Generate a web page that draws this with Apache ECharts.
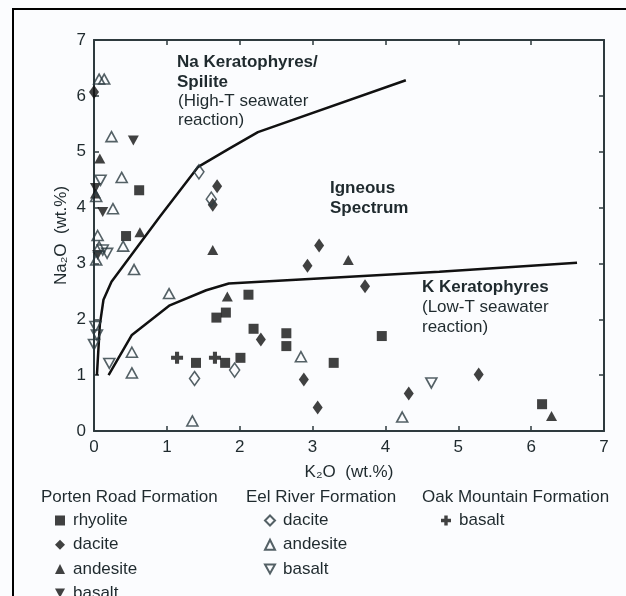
<!DOCTYPE html>
<html><head><meta charset="utf-8">
<script src="https://cdn.jsdelivr.net/npm/echarts@6/dist/echarts.min.js"></script>
<style>html,body{margin:0;padding:0;background:#fbfcfe}#c{width:626px;height:596px}</style>
</head><body><div id="c"></div>
<script>
// ---- data (K2O wt.%, Na2O wt.%) ----
const xTicks = [0, 1, 2, 3, 4, 5, 6, 7];
const yTicks = [0, 1, 2, 3, 4, 5, 6, 7];

const porRhyolite = [[0.62,4.31],[0.44,3.49],[1.68,2.03],[1.81,2.12],[2.12,2.44],[2.19,1.83],[2.64,1.75],[2.64,1.52],[1.40,1.22],[1.80,1.22],[2.01,1.31],[3.29,1.22],[3.95,1.70],[6.15,0.48]];
const porDacite = [[0.00,6.07],[1.69,4.38],[1.63,4.05],[3.09,3.32],[2.93,2.96],[3.72,2.59],[2.29,1.64],[2.88,0.92],[3.07,0.42],[4.32,0.67],[5.28,1.01]];
const porAndesite = [[0.08,4.88],[0.02,4.25],[0.63,3.56],[1.63,3.24],[1.83,2.41],[3.49,3.06],[6.28,0.27]];
const porBasalt = [[0.54,5.20],[0.02,4.35],[0.12,3.92],[0.05,3.15]];
const eelDacite = [[1.44,4.64],[1.61,4.15],[1.38,0.94],[1.93,1.09]];
const eelAndesite = [[0.07,6.30],[0.14,6.30],[0.24,5.27],[0.38,4.54],[0.26,3.98],[0.03,4.20],[0.05,3.50],[0.07,3.30],[0.03,3.06],[0.40,3.31],[0.55,2.89],[1.03,2.46],[0.52,1.41],[0.52,1.04],[1.35,0.18],[2.84,1.33],[4.23,0.25]];
const eelBasalt = [[0.09,4.49],[0.12,3.24],[0.18,3.18],[0.02,1.87],[0.04,1.72],[0.00,1.55],[0.21,1.21],[4.63,0.86]];
const oakBasalt = [[1.14,1.31],[1.66,1.31]];

const upperBoundary = [[0.04,1.00],[0.08,1.90],[0.13,2.35],[0.24,2.67],[0.90,3.83],[1.43,4.73],[1.85,5.05],[2.25,5.35],[4.28,6.28]];
const lowerBoundary = [[0.20,1.00],[0.52,1.72],[1.04,2.25],[1.54,2.52],[1.85,2.64],[4.74,2.85],[6.63,3.01]];

const groupTitles = ['Porten Road Formation', 'Eel River Formation', 'Oak Mountain Formation'];

// ---- styles ----
const F = '"Liberation Sans", Arial, Helvetica, sans-serif';
const AX = '#2e3a3e';
const TXT = '#1f2a2e';
const INK = '#111';
const OPEN = '#2b3a40';
const DOWN = 'path://M0,0L10,0L5,9Z';
const PLUS = 'path://M3.3,0H6.7V3.3H10V6.7H6.7V10H3.3V6.7H0V3.3H3.3Z';

function sc(name, data, symbol, size, filled) {
  return {
    type: 'scatter', name, data, symbol, symbolSize: size, z: 3,
    itemStyle: filled ? { color: INK } : { color: 'rgba(255,255,255,0)', borderColor: OPEN, borderWidth: 1.6 },
    emphasis: { disabled: true }
  };
}
function ln(data) {
  return { type: 'line', data, symbol: 'none', lineStyle: { color: INK, width: 2.5 }, z: 2, silent: true };
}

const series = [
  ln(upperBoundary), ln(lowerBoundary),
  sc('P|rhyolite', porRhyolite, 'rect', 10, true),
  sc('P|dacite', porDacite, 'diamond', [10, 14], true),
  sc('P|andesite', porAndesite, 'triangle', [11, 10], true),
  sc('P|basalt', porBasalt, DOWN, [11, 10], true),
  sc('E|dacite', eelDacite, 'diamond', [10, 14], false),
  sc('E|andesite', eelAndesite, 'triangle', [11, 10], false),
  sc('E|basalt', eelBasalt, DOWN, [11, 10], false),
  sc('O|basalt', oakBasalt, PLUS, 12, true)
];

function axisCommon(pos, labels) {
  return {
    type: 'value', min: 0, max: 7, interval: 1, position: pos,
    axisLine: { show: true, onZero: false, lineStyle: { color: AX, width: 2 } },
    axisTick: { show: true, inside: true, length: 5, lineStyle: { color: AX, width: 1.5 } },
    axisLabel: { show: labels, color: TXT, fontSize: 17, fontFamily: F, margin: 8 },
    splitLine: { show: false }
  };
}
const xMain = Object.assign(axisCommon('bottom', true), {
  name: 'K\u2082O  (wt.%)', nameLocation: 'middle', nameGap: 33, nameMoveOverlap: false,
  nameTextStyle: { color: TXT, fontSize: 17, fontFamily: F }
});
const yMain = Object.assign(axisCommon('left', true), {
  name: 'Na\u2082O  (wt.%)', nameLocation: 'middle', nameGap: 24, nameMoveOverlap: false,
  nameTextStyle: { color: TXT, fontSize: 17, fontFamily: F }
});

function legend(left, names) {
  return {
    left, top: 512, height: 140, orient: 'vertical', data: names, padding: 0,
    itemWidth: 10, itemHeight: 10, itemGap: 7.2,
    formatter: n => n.split('|')[1],
    textStyle: { color: TXT, fontSize: 17, fontFamily: F, padding: [0, 0, 0, 3] },
    selectedMode: false
  };
}

function txt(x, y, text, bold) {
  return { type: 'text', x, y, style: { text, fill: TXT, font: (bold ? 'bold ' : '') + '17px ' + F, verticalAlign: 'middle', align: 'left' } };
}

const option = {
  backgroundColor: '#fbfcfe',
  animation: false,
  grid: { left: 94, right: 22, top: 40, bottom: 165 },
  xAxis: [xMain, axisCommon('top', false)],
  yAxis: [yMain, axisCommon('right', false)],
  legend: [
    legend(55, ['P|rhyolite', 'P|dacite', 'P|andesite', 'P|basalt']),
    legend(264, ['E|dacite', 'E|andesite', 'E|basalt']),
    legend(441, ['O|basalt'])
  ],
  series,
  graphic: [
    { type: 'rect', shape: { x: 13, y: 9, width: 700, height: 700 }, style: { fill: 'none', stroke: '#000', lineWidth: 2 }, silent: true },
    txt(177, 62, 'Na Keratophyres/', true),
    txt(177, 82, 'Spilite', true),
    txt(178, 101, '(High-T seawater', false),
    txt(178, 120, 'reaction)', false),
    txt(330, 188, 'Igneous', true),
    txt(330, 208, 'Spectrum', true),
    txt(422, 287, 'K Keratophyres', true),
    txt(422, 307, '(Low-T seawater', false),
    txt(422, 327, 'reaction)', false),
    txt(41, 497, groupTitles[0], false),
    txt(246, 497, groupTitles[1], false),
    txt(422, 497, groupTitles[2], false)
  ]
};
const chart = echarts.init(document.getElementById('c'), null, { renderer: 'canvas' });
chart.setOption(option);
</script>
</body></html>
